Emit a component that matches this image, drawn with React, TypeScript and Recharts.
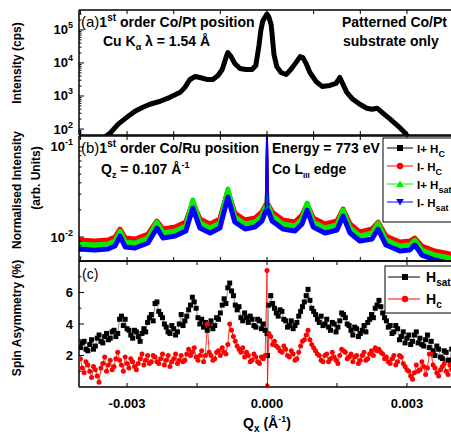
import React from "react";
import { LineChart, Line, XAxis, YAxis } from "recharts";

const FONT = "'Liberation Sans', Arial, Helvetica, sans-serif";

// (a) Cu K-alpha, 1st order Co/Pt position, patterned substrate only
const qxA = [-0.00358, -0.00336, -0.00319, -0.003, -0.00283, -0.00266, -0.00251, -0.00229, -0.00208, -0.00186,
  -0.00176, -0.00165, -0.00154, -0.00144, -0.00129, -0.00116, -0.00105, -0.00096, -0.00088, -0.00084,
  -0.00077, -0.00069, -0.00058, -0.00045, -0.00032, -0.00024, -0.00017, -0.00013, -0.00009, -0.00004,
  0, 0.00004, 0.00009, 0.00011, 0.00015, 0.00021, 0.0003, 0.00041, 0.00051, 0.00062,
  0.00071, 0.00077, 0.00084, 0.00092, 0.00105, 0.00118, 0.00135, 0.00148, 0.00156, 0.00163,
  0.00171, 0.00184, 0.00199, 0.00214, 0.00225, 0.00236, 0.00246, 0.00264, 0.00281, 0.00294, 0.00306];
const intensityA = [44, 76, 141, 229, 347, 457, 562, 692, 912, 1288,
  1820, 3162, 3890, 3631, 3162, 3162, 4169, 6310, 14450, 20420,
  15490, 9550, 6760, 6310, 6310, 8320, 35480, 100000, 186200, 245500,
  302000, 245500, 141300, 70800, 17780, 7760, 5130, 4470, 6310, 10230,
  15490, 14450, 9550, 5130, 2750, 1950, 2090, 2400, 3630, 2240,
  1290, 794, 562, 427, 398, 427, 324, 200, 123, 81, 50];

// (b) soft x-ray, 773 eV, Co L3 edge
const qxB = [-0.00403, -0.00369, -0.00341, -0.00326, -0.00315, -0.00304, -0.00283, -0.00255, -0.00236, -0.00223,
  -0.00197, -0.00174, -0.00159, -0.00144, -0.00122, -0.00101, -0.00084, -0.00069, -0.00047, -0.00026,
  -0.00011, -0.00003, 0, 0.00003, 0.00011, 0.00034, 0.0006, 0.00075, 0.00086, 0.00099,
  0.00124, 0.0015, 0.00163, 0.00178, 0.00199, 0.00225, 0.00238, 0.00255, 0.00285, 0.00306,
  0.00317, 0.00332, 0.0036, 0.00392, 0.00405];
const iPlusHc = [0.00903, 0.0088, 0.00903, 0.00975, 0.01196, 0.0095, 0.00926, 0.01052, 0.01468, 0.01196,
  0.01259, 0.01431, 0.02387, 0.01545, 0.01359, 0.01545, 0.03162, 0.01801, 0.01506, 0.01585,
  0.01848, 0.0221, 0.1292, 0.0221, 0.01848, 0.01506, 0.01431, 0.01711, 0.02268, 0.01585,
  0.01359, 0.01468, 0.01995, 0.01359, 0.01108, 0.01196, 0.01431, 0.01, 0.00858, 0.0088,
  0.0095, 0.00774, 0.00681, 0.00631, 0.00615];
const iMinusHc = [0.00926, 0.00903, 0.00926, 0.01, 0.01227, 0.00975, 0.0095, 0.0108, 0.01506, 0.01227,
  0.01292, 0.01468, 0.02448, 0.01585, 0.01395, 0.01585, 0.03244, 0.01848, 0.01545, 0.01626,
  0.01896, 0.02268, 0.1196, 0.02268, 0.01896, 0.01545, 0.01468, 0.01756, 0.02326, 0.01626,
  0.01395, 0.01506, 0.02047, 0.01395, 0.01137, 0.01227, 0.01468, 0.01026, 0.0088, 0.00903,
  0.00975, 0.00794, 0.00699, 0.00648, 0.00631];
const iPlusHsat = [0.00836, 0.00815, 0.00836, 0.00903, 0.01166, 0.0088, 0.00858, 0.00975, 0.01468, 0.01108,
  0.01166, 0.01325, 0.02577, 0.01431, 0.01259, 0.01431, 0.03415, 0.01668, 0.01395, 0.01468,
  0.01711, 0.0221, 0.03082, 0.0221, 0.01711, 0.01395, 0.01325, 0.01585, 0.02387, 0.01468,
  0.01259, 0.01359, 0.01995, 0.01259, 0.01026, 0.01108, 0.01431, 0.00926, 0.00794, 0.00815,
  0.00926, 0.00717, 0.00631, 0.00585, 0.0057];
const iMinusHsat = [0.00736, 0.00717, 0.00736, 0.00794, 0.01026, 0.00774, 0.00755, 0.00858, 0.01259, 0.00975,
  0.01026, 0.01166, 0.021, 0.01259, 0.01108, 0.01259, 0.02783, 0.01468, 0.01227, 0.01292,
  0.01506, 0.01945, 0.1545, 0.01945, 0.01506, 0.01227, 0.01166, 0.01395, 0.01995, 0.01292,
  0.01108, 0.01196, 0.01711, 0.01108, 0.00903, 0.0095, 0.01227, 0.00815, 0.00699, 0.00717,
  0.00815, 0.00631, 0.00556, 0.00514, 0.00501];
const SPIKE = 22; // index of the specular spike at Qx = 0

// (c) spin asymmetry (%)
const qxC = [-0.004, -0.00396, -0.00392, -0.00388, -0.00384, -0.0038, -0.00376, -0.00372, -0.00368, -0.00364,
  -0.0036, -0.00356, -0.00352, -0.00348, -0.00344, -0.0034, -0.00336, -0.00332, -0.00328, -0.00324,
  -0.0032, -0.00316, -0.00312, -0.00308, -0.00304, -0.003, -0.00296, -0.00292, -0.00288, -0.00284,
  -0.0028, -0.00276, -0.00272, -0.00268, -0.00264, -0.0026, -0.00256, -0.00252, -0.00248, -0.00244,
  -0.0024, -0.00236, -0.00232, -0.00228, -0.00224, -0.0022, -0.00216, -0.00212, -0.00208, -0.00204,
  -0.002, -0.00196, -0.00192, -0.00188, -0.00184, -0.0018, -0.00176, -0.00172, -0.00168, -0.00164,
  -0.0016, -0.00156, -0.00152, -0.00148, -0.00144, -0.0014, -0.00136, -0.00132, -0.00128, -0.00124,
  -0.0012, -0.00116, -0.00112, -0.00108, -0.00104, -0.001, -0.00096, -0.00092, -0.00088, -0.00084,
  -0.0008, -0.00076, -0.00072, -0.00068, -0.00064, -0.0006, -0.00056, -0.00052, -0.00048, -0.00044,
  -0.0004, -0.00036, -0.00032, -0.00028, -0.00024, -0.0002, -0.00016, -0.00012, -0.00008, -0.00004,
  0, 0.00001,
  0.00004, 0.00008, 0.00012, 0.00016, 0.0002, 0.00024, 0.00028, 0.00032, 0.00036, 0.0004,
  0.00044, 0.00048, 0.00052, 0.00056, 0.0006, 0.00064, 0.00068, 0.00072, 0.00076, 0.0008,
  0.00084, 0.00088, 0.00092, 0.00096, 0.001, 0.00104, 0.00108, 0.00112, 0.00116, 0.0012,
  0.00124, 0.00128, 0.00132, 0.00136, 0.0014, 0.00144, 0.00148, 0.00152, 0.00156, 0.0016,
  0.00164, 0.00168, 0.00172, 0.00176, 0.0018, 0.00184, 0.00188, 0.00192, 0.00196, 0.002,
  0.00204, 0.00208, 0.00212, 0.00216, 0.0022, 0.00224, 0.00228, 0.00232, 0.00236, 0.0024,
  0.00244, 0.00248, 0.00252, 0.00256, 0.0026, 0.00264, 0.00268, 0.00272, 0.00276, 0.0028,
  0.00284, 0.00288, 0.00292, 0.00296, 0.003, 0.00304, 0.00308, 0.00312, 0.00316, 0.0032,
  0.00324, 0.00328, 0.00332, 0.00336, 0.0034, 0.00344, 0.00348, 0.00352, 0.00356, 0.0036,
  0.00364, 0.00368, 0.00372, 0.00376, 0.0038, 0.00384, 0.00388, 0.00392, 0.00396, 0.004];
const asymHsat = [2.5, 2.8, 2.9, 2.4, 2.3, 2.7, 3.0, 2.4, 2.6, 3.1,
  3.3, 2.9, 2.8, 3.2, 3.4, 3.0, 3.1, 3.5, 3.6, 3.2,
  3.4, 4.3, 4.5, 3.9, 4.3, 3.7, 3.6, 3.3, 3.1, 3.6,
  3.5, 3.2, 2.9, 3.4, 3.7, 3.5, 4.1, 4.4, 4.6, 4.2,
  5.3, 5.4, 4.8, 4.6, 4.4, 4.0, 3.8, 3.5, 3.4, 3.9,
  3.7, 3.3, 3.5, 4.0, 4.6, 3.9, 4.2, 4.5, 4.9, 5.2,
  5.7, 5.4, 5.0, 4.4, 4.0, 4.3, 3.8, 4.1, 3.6, 3.9,
  4.2, 3.7, 3.9, 4.4, 4.3, 4.7, 5.2, 5.6, 5.3, 6.3,
  6.6, 6.1, 5.8, 5.2, 4.9, 5.1, 4.4, 4.2, 4.7, 4.4,
  4.1, 4.5, 4.3, 3.9, 3.8, 4.3, 4.2, 3.7, 4.0, 3.6,
  3.4, 2.0,
  5.2, 5.8, 5.3, 5.0, 4.7, 4.5, 4.9, 4.8, 4.3, 4.2,
  3.8, 3.9, 4.2, 3.7, 3.9, 4.1, 4.5, 4.8, 5.1, 5.4,
  5.8, 6.2, 5.5, 5.0, 4.8, 4.6, 4.3, 4.1, 4.5, 3.9,
  4.0, 4.3, 3.8, 3.6, 4.1, 4.0, 3.5, 3.8, 4.2, 4.7,
  4.6, 4.4, 4.0, 3.9, 3.6, 3.3, 3.8, 3.7, 3.2, 3.4,
  3.6, 3.9, 3.5, 4.1, 4.3, 4.6, 4.4, 5.0, 5.2, 5.5,
  5.1, 4.7, 4.4, 4.2, 3.8, 3.9, 3.4, 3.5, 3.9, 3.7,
  3.0, 3.2, 3.5, 2.8, 3.1, 3.3, 2.7, 2.9, 3.3, 3.5,
  2.8, 3.1, 2.7, 2.6, 3.0, 3.3, 2.5, 2.9, 2.3, 2.0,
  2.6, 2.4, 1.9, 1.8, 2.3, 2.2, 1.7, 1.7, 2.4, 2.1];
const asymHc = [1.8, 1.2, 0.9, 1.6, 1.4, 1.0, 0.6, 1.3, 1.1, 0.7,
  0.3, 1.2, 1.5, 1.9, 1.0, 1.4, 1.7, 1.1, 1.3, 1.8,
  2.2, 1.7, 1.4, 1.0, 1.9, 1.5, 1.2, 1.8, 1.6, 1.3,
  1.1, 1.5, 1.8, 2.1, 1.4, 1.7, 2.0, 1.5, 1.6, 2.0,
  1.9, 1.6, 1.5, 1.8, 2.1, 1.4, 1.7, 2.0, 1.3, 1.6,
  1.8, 2.1, 1.5, 1.7, 2.0, 1.6, 1.7, 2.1, 2.4, 2.0,
  2.2, 2.5, 1.9, 1.7, 2.0, 2.3, 1.6, 2.0, 4.0, 2.2,
  2.0, 1.7, 1.8, 2.2, 2.3, 2.0, 2.5, 2.2, 2.1, 2.7,
  4.0, 3.6, 3.2, 2.9, 2.6, 2.4, 2.2, 2.5, 1.9, 2.2,
  2.0, 1.6, 1.7, 2.1, 1.9, 1.6, 1.5, 1.9, 1.8, 2.0,
  7.4, 0.05,
  3.4, 3.2, 2.7, 2.9, 2.6, 2.5, 2.3, 2.2, 2.6, 2.4,
  2.0, 1.9, 2.3, 2.1, 1.7, 1.8, 2.2, 2.6, 2.9, 3.0,
  3.3, 3.6, 3.0, 2.7, 2.5, 2.3, 2.1, 2.0, 1.7, 1.6,
  2.0, 2.1, 1.6, 1.8, 2.2, 1.9, 1.7, 1.5, 2.0, 2.4,
  2.3, 2.2, 1.8, 1.9, 2.1, 1.6, 1.9, 2.0, 1.5, 1.7,
  2.0, 2.2, 1.7, 1.8, 2.1, 2.3, 2.0, 2.5, 2.3, 2.4,
  2.2, 2.1, 1.8, 1.9, 1.6, 1.5, 1.8, 2.0, 1.4, 1.6,
  2.0, 1.9, 1.5, 1.3, 1.1, 1.0, 0.7, 0.5, 0.9, 1.4,
  1.0, 1.1, 1.6, 1.3, 0.8, 1.2, 2.1, 2.1, 1.4, 1.2,
  0.9, 0.7, 1.1, 1.3, 1.5, 1.0, 0.8, 1.4, 1.1, 1.2];

// axes
const X_DOMAIN = [-0.00403, 0.00403];
const xTicksAB = [-0.004, -0.003, -0.002, -0.001, 0, 0.001, 0.002, 0.003, 0.004];
const xTicksC = [-0.003, -0.0015, 0, 0.0015, 0.003];
const xLabels = [-0.003, 0, 0.003];
const decadesA = [100, 1000, 10000, 100000];
const decadesB = [0.01, 0.1];
const ticksA = [70, 80, 90, 100, 200, 300, 400, 500, 600, 700, 800, 900, 1000, 2000, 3000, 4000, 5000, 6000, 7000, 8000, 9000,
  10000, 20000, 30000, 40000, 50000, 60000, 70000, 80000, 90000, 100000, 200000, 300000];
const ticksB = [0.006, 0.007, 0.008, 0.009, 0.01, 0.02, 0.03, 0.04, 0.05, 0.06, 0.07, 0.08, 0.09, 0.1];
const ticksC = [1, 2, 3, 4, 5, 6, 7];
const majorsC = [2, 4, 6];

const rows = (xs: number[], ys: number[]) => xs.map((x, i) => ({ x, y: ys[i] }));

const W = 460;
const AXIS = { stroke: "#000", strokeWidth: 1.5 };

const isIn = (list: number[], v: number) => list.some((m) => Math.abs(m - v) <= Math.abs(m) * 1e-6 + 1e-12);

function XTick({ x, y, payload, dir, labels }: any) {
  const v = payload.value;
  return (
    <g>
      <line x1={x} x2={x} y1={y} y2={y + dir * 4} stroke="#000" strokeWidth={1} />
      {labels && isIn(xLabels, v) && (
        <text x={x} y={y + 21} textAnchor="middle" fontFamily={FONT} fontWeight="bold" fontSize={13} fill="#000">
          {v.toFixed(3)}
        </text>
      )}
    </g>
  );
}

function LogTick({ x, y, payload, majors }: any) {
  const v = payload.value;
  const major = isIn(majors, v);
  return (
    <g>
      <line x1={x} x2={x + (major ? 5 : 2.5)} y1={y} y2={y} stroke="#000" strokeWidth={1} />
      {major && (
        <text x={x - 6} y={y + 4.5} textAnchor="end" fontFamily={FONT} fontWeight="bold" fontSize={13} fill="#000">
          10<tspan dy={-6} fontSize={9}>{Math.round(Math.log10(v))}</tspan>
        </text>
      )}
    </g>
  );
}

function LinTick({ x, y, payload }: any) {
  const v = payload.value;
  const major = isIn(majorsC, v);
  return (
    <g>
      <line x1={x} x2={x + (major ? 5 : 2.5)} y1={y} y2={y} stroke="#000" strokeWidth={1} />
      {major && (
        <text x={x - 6} y={y + 4.5} textAnchor="end" fontFamily={FONT} fontWeight="bold" fontSize={13} fill="#000">
          {v}
        </text>
      )}
    </g>
  );
}

// bottom and top frame axes, both with inward ticks
function xAxes(ticks: number[], labels: boolean) {
  return [
    <XAxis key="xb" xAxisId="b" dataKey="x" type="number" domain={X_DOMAIN} allowDataOverflow ticks={ticks} interval={0}
      height={1} tickSize={0} tickMargin={0} axisLine={AXIS} tickLine={false}
      tick={(p: any) => <XTick {...p} dir={-1} labels={labels} />} />,
    <XAxis key="xt" xAxisId="t" orientation="top" dataKey="x" type="number" domain={X_DOMAIN} allowDataOverflow ticks={ticks}
      interval={0} height={1} tickSize={0} tickMargin={0} axisLine={AXIS} tickLine={false}
      tick={(p: any) => <XTick {...p} dir={1} labels={false} />} />,
  ];
}

const Square = (color: string) => (p: any) =>
  <rect key={p.index} x={p.cx - 2.5} y={p.cy - 2.5} width={5} height={5} fill={color} />;
const Circle = (color: string) => (p: any) =>
  <circle key={p.index} cx={p.cx} cy={p.cy} r={2.5} fill={color} />;

function PanelA() {
  return (
    <LineChart width={W} height={140} margin={{ top: 9, right: 5, bottom: 4, left: 0 }}>
      {xAxes(xTicksAB, false)}
      <YAxis scale="log" type="number" domain={[66, 400000]} allowDataOverflow ticks={ticksA} interval={0} width={79}
        tickSize={0} tickMargin={0} axisLine={AXIS} tickLine={false}
        tick={(p: any) => <LogTick {...p} majors={decadesA} />} />
      <Line xAxisId="b" data={rows(qxA, intensityA)} dataKey="y" type="linear" stroke="#000" strokeWidth={5}
        strokeLinejoin="round" dot={false} isAnimationActive={false} />
    </LineChart>
  );
}

function PanelB() {
  const series = [
    { ys: iPlusHc, color: "#000000" },
    { ys: iMinusHc, color: "#ff0000" },
    { ys: iPlusHsat, color: "#00ee00" },
    { ys: iMinusHsat, color: "#0000ff" },
  ];
  return (
    <LineChart width={W} height={140} margin={{ top: 5, right: 5, bottom: 8, left: 0 }}>
      {xAxes(xTicksAB, false)}
      <YAxis scale="log" type="number" domain={[0.00542, 0.1324]} allowDataOverflow ticks={ticksB} interval={0} width={79}
        tickSize={0} tickMargin={0} axisLine={AXIS} tickLine={false}
        tick={(p: any) => <LogTick {...p} majors={decadesB} />} />
      {series.map((s, i) => (
        <Line key={"band" + i} xAxisId="b" data={rows(qxB, s.ys).filter((_, k) => k !== SPIKE)} dataKey="y" type="linear"
          stroke={s.color} strokeWidth={5} strokeLinejoin="round" dot={false} isAnimationActive={false} />
      ))}
      {series.map((s, i) => (
        <Line key={"spike" + i} xAxisId="b" data={rows(qxB, s.ys).slice(SPIKE - 1, SPIKE + 2)} dataKey="y" type="linear"
          stroke={s.color} strokeWidth={1.8} dot={false} isAnimationActive={false} />
      ))}
    </LineChart>
  );
}

function PanelC() {
  return (
    <LineChart width={W} height={180} margin={{ top: 5, right: 5, bottom: 47, left: 0 }}>
      {xAxes(xTicksC, true)}
      <YAxis type="number" domain={[0, 8]} allowDataOverflow ticks={ticksC} interval={0} width={79}
        tickSize={0} tickMargin={0} axisLine={AXIS} tickLine={false} tick={(p: any) => <LinTick {...p} />} />
      <Line xAxisId="b" data={rows(qxC, asymHsat)} dataKey="y" type="linear" stroke="#777" strokeWidth={0.8}
        dot={Square("#000")} isAnimationActive={false} />
      <Line xAxisId="b" data={rows(qxC, asymHc)} dataKey="y" type="linear" stroke="#ff0000" strokeWidth={0.8}
        dot={Circle("#ff0000")} isAnimationActive={false} />
    </LineChart>
  );
}

const B = { fontFamily: FONT, fontWeight: 700, fill: "#000" } as const;

function Marker({ kind, cx, cy, color }: any) {
  if (kind === "square") return <rect x={cx - 3} y={cy - 3} width={6} height={6} fill={color} />;
  if (kind === "circle") return <circle cx={cx} cy={cy} r={3.2} fill={color} />;
  if (kind === "up") return <polygon points={`${cx},${cy - 3.5} ${cx - 3.8},${cy + 3} ${cx + 3.8},${cy + 3}`} fill={color} />;
  return <polygon points={`${cx},${cy + 3.5} ${cx - 3.8},${cy - 3} ${cx + 3.8},${cy - 3}`} fill={color} />;
}

function Overlay() {
  const legB = [
    { y: 148, color: "#000", kind: "square", sign: "+", sub: "C" },
    { y: 166, color: "#ff0000", kind: "circle", sign: "-", sub: "C" },
    { y: 184, color: "#00ee00", kind: "up", sign: "+", sub: "sat" },
    { y: 202, color: "#0000ff", kind: "down", sign: "-", sub: "sat" },
  ];
  const legC = [
    { y: 277, color: "#000", kind: "square", sub: "sat" },
    { y: 299, color: "#ff0000", kind: "circle", sub: "c" },
  ];
  return (
    <svg width={451} height={435} style={{ position: "absolute", left: 0, top: 0 }}>
      {/* axis titles */}
      <text transform="translate(21,63) rotate(-90)" textAnchor="middle" fontSize={12} {...B}>Intensity (cps)</text>
      <text transform="translate(21,190) rotate(-90)" textAnchor="middle" fontSize={12} {...B}>Normalised Intensity</text>
      <text transform="translate(40,178) rotate(-90)" textAnchor="middle" fontSize={12} {...B}>(arb. Units)</text>
      <text transform="translate(21,318) rotate(-90)" textAnchor="middle" fontSize={12} {...B}>Spin Asymmetry (%)</text>
      <text x={267} y={428} textAnchor="middle" fontSize={14} {...B}>
        Q<tspan dy={4} fontSize={10}>x</tspan><tspan dy={-4}> (Å</tspan><tspan dy={-6} fontSize={9}>-1</tspan><tspan dy={6}>)</tspan>
      </text>

      {/* panel (a) */}
      <text x={81} y={27} fontSize={14} {...B}>
        <tspan fontWeight={400} fontSize={15}>(a)</tspan>1<tspan dy={-6} fontSize={10}>st</tspan><tspan dy={6}> order Co/Pt position</tspan>
      </text>
      <text x={103} y={46} fontSize={14} {...B}>
        Cu K<tspan dy={4} fontSize={9}>α</tspan><tspan dy={-4}> λ = 1.54 Å</tspan>
      </text>
      <text x={342} y={27} fontSize={14} {...B}>Patterned Co/Pt</text>
      <text x={343} y={46} fontSize={14} {...B}>substrate only</text>

      {/* panel (b) */}
      <text x={81} y={153} fontSize={14} {...B}>
        <tspan fontWeight={400} fontSize={15}>(b)</tspan>1<tspan dy={-6} fontSize={10}>st</tspan><tspan dy={6}> order Co/Ru position</tspan>
      </text>
      <text x={101} y={174} fontSize={14} {...B}>
        Q<tspan dy={4} fontSize={9}>z</tspan><tspan dy={-4}> = 0.107 Å</tspan><tspan dy={-6} fontSize={9}>-1</tspan>
      </text>
      <text x={272} y={153} fontSize={14} {...B}>Energy = 773 eV</text>
      <text x={272} y={174} fontSize={14} {...B}>
        Co L<tspan dy={4} fontSize={8}>III</tspan><tspan dy={-4}> edge</tspan>
      </text>
      <rect x={383} y={138} width={80} height={84} fill="#fff" stroke="#000" strokeWidth={1} />
      {legB.map((e) => (
        <g key={e.y}>
          <line x1={387} x2={413} y1={e.y} y2={e.y} stroke={e.color} strokeWidth={1} />
          <Marker kind={e.kind} cx={400} cy={e.y} color={e.color} />
          <text x={417} y={e.y + 5} fontSize={11.5} {...B}>
            I{e.sign} H<tspan dy={4} fontSize={9}>{e.sub}</tspan>
          </text>
        </g>
      ))}

      {/* panel (c) */}
      <text x={82} y={279} fontSize={14} fontFamily={FONT} fill="#000">(c)</text>
      <rect x={385} y={266} width={80} height={47} fill="#fff" stroke="#000" strokeWidth={1} />
      {legC.map((e) => (
        <g key={e.y}>
          <line x1={388} x2={420} y1={e.y} y2={e.y} stroke={e.color} strokeWidth={1} />
          <Marker kind={e.kind} cx={405} cy={e.y} color={e.color} />
          <text x={426} y={e.y + 5} fontSize={14} {...B}>
            H<tspan dy={4} fontSize={10}>{e.sub}</tspan>
          </text>
        </g>
      ))}
    </svg>
  );
}

export default function App() {
  return (
    <div style={{ position: "absolute", left: 0, top: 0, width: 451, height: 435, overflow: "hidden", background: "#fff", fontFamily: FONT }}>
      <div style={{ position: "absolute", left: 0, top: 0 }}><PanelA /></div>
      <div style={{ position: "absolute", left: 0, top: 130 }}><PanelB /></div>
      <div style={{ position: "absolute", left: 0, top: 255 }}><PanelC /></div>
      <Overlay />
    </div>
  );
}
